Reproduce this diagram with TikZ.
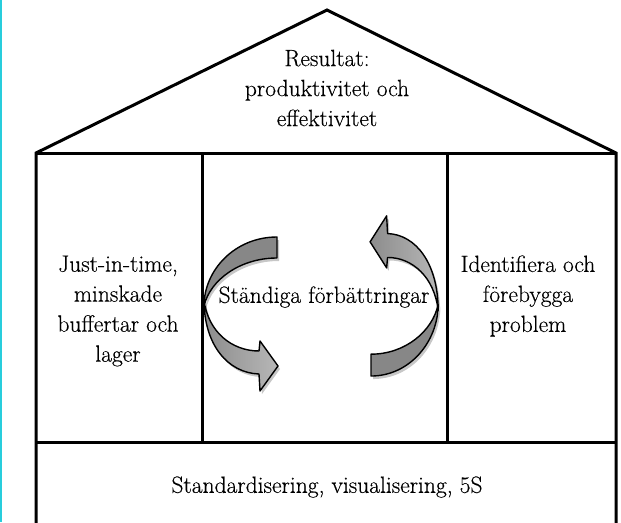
\documentclass[tikz,border=0pt]{standalone}
\usepackage{fontspec}
\setmainfont{Latin Modern Roman}[FakeBold=0.35]
\definecolor{backgray}{RGB}{135,135,135}
\definecolor{frontgray}{RGB}{165,165,165}
\definecolor{edgecyan}{RGB}{40,205,220}
\tikzset{
  wall/.style={line width=3pt},
  lbl/.style={align=center, font=\fontsize{23.5}{30}\selectfont, inner sep=0pt},
  arrowline/.style={line width=1.4pt, line join=round},
  shadowfill/.style={fill=black, opacity=.22},
}
\newcommand\drawcurvarrow[1]{%
  \fill[shadowfill, shift={#1}] (277,237) .. controls (235,237) and (204,270) .. (204,306)
     .. controls (210,280) and (240,258) .. (277,258) -- cycle;
  \fill[shadowfill, shift={#1}] (204,300) .. controls (204,345) and (228,373) .. (259,374)
     -- (260,391) -- (278,366) -- (260,341) -- (259,351)
     .. controls (232,351) and (208,332) .. (204,300) -- cycle;
  \draw[arrowline, fill=backgray] (277,237) .. controls (235,237) and (204,270) .. (204,306)
     .. controls (210,280) and (240,258) .. (277,258) -- cycle;
  \draw[arrowline, left color=frontgray!85!black, right color=frontgray!80!white] (204,300) .. controls (204,345) and (228,373) .. (259,374)
     -- (260,391) -- (278,366) -- (260,341) -- (259,351)
     .. controls (232,351) and (208,332) .. (204,300) -- cycle;
}
\begin{document}
\begin{tikzpicture}[x=1pt,y=-1pt]
\useasboundingbox (0,0) rectangle (621,522);
\draw[edgecyan, line width=1.5pt] (1,0) -- (1,522);
% house outline
\draw[wall] (36,530) -- (36,153) -- (327,10) -- (616,153) -- (616,530);
\draw[wall] (36,153) -- (616,153);
\draw[wall] (36,442) -- (616,442);
\draw[wall] (202,153) -- (202,442);
\draw[wall] (447,153) -- (447,442);
% arrows
\drawcurvarrow{(2,3)}
\begin{scope}[shift={(625.84,622.5)}, xscale=-0.92, yscale=-1.04]
  \drawcurvarrow{(-2.2,-2.9)}
\end{scope}
% texts
\node[lbl] (roof) at (327,88) {Resultat:\\produktivitet och\\effektivitet};
\node[lbl] (left) at (118,311) {Just-in-time,\\minskade\\buffertar och\\lager};
\node[lbl] (right) at (528,296) {Identifiera och\\förebygga\\problem};
\node[lbl] (center) at (324,297) {Ständiga förbättringar};
\node[lbl] (base) at (327,487) {Standardisering, visualisering, 5S};
\end{tikzpicture}
\end{document}
